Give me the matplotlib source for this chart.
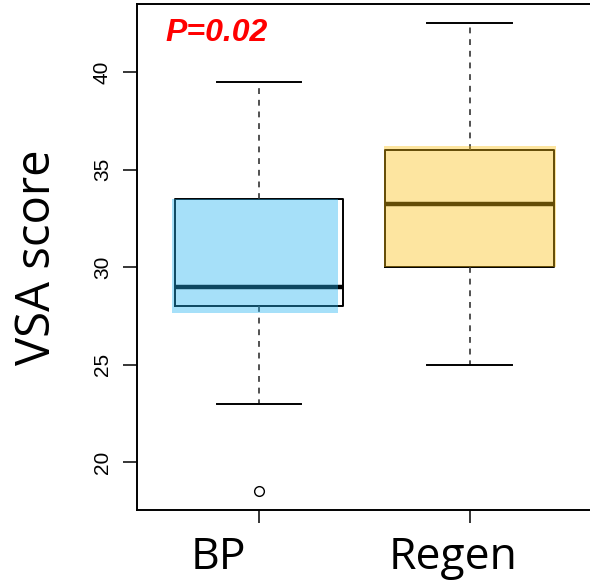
import matplotlib.pyplot as plt
from matplotlib.patches import Rectangle

# group summaries (VSA score)
groups = ['BP', 'Regen']
medians = [29.0, 33.25]
q1 = [28.0, 30.0]
q3 = [33.5, 36.0]
whis_lo = [23.0, 25.0]
whis_hi = [39.5, 42.5]
outliers = [[18.5], []]
y_ticks = [20, 25, 30, 35, 40]

fill_colors = [(0.13, 0.70, 0.95), (0.98, 0.75, 0.07)]

stats = []
for i, g in enumerate(groups):
    stats.append({'label': g, 'med': medians[i], 'q1': q1[i], 'q3': q3[i],
                  'whislo': whis_lo[i], 'whishi': whis_hi[i], 'fliers': outliers[i]})

fig = plt.figure(figsize=(5.9, 5.86), dpi=100)
ax = fig.add_axes([0.2322, 0.1297, 0.77, 0.8635])

positions = [1, 2]
bp = ax.bxp(stats, positions=positions, widths=0.8, patch_artist=False,
            boxprops=dict(color='black', linewidth=1.4),
            medianprops=dict(color='black', linewidth=3.2),
            whiskerprops=dict(color='#333333', linewidth=1.2, linestyle=(0, (3.5, 3.5))),
            capprops=dict(color='black', linewidth=1.4),
            flierprops=dict(marker='o', markersize=7, markerfacecolor='none',
                            markeredgecolor='black', markeredgewidth=1.0))

# translucent fills laid over the boxes, slightly shifted
shift = [(-0.012, -0.024, -0.36, 0.0), (-0.005, 0.01, 0.0, 0.2)]
for i, p in enumerate(positions):
    dl, dr, db, dt = shift[i]
    x0 = p - 0.4 + dl
    y0 = q1[i] + db
    ax.add_patch(Rectangle((x0, y0), 0.8 + dr - dl, q3[i] + dt - y0,
                           facecolor=fill_colors[i], alpha=0.4, edgecolor='none', zorder=5))

ax.set_xlim(0.422, 2.578)
ax.set_ylim(17.54, 43.49)
ax.set_yticks(y_ticks)
ax.set_yticklabels([str(t) for t in y_ticks], rotation=90, va='center',
                   fontsize=15, family='Liberation Sans')
ax.set_xticks(positions)
ax.set_xticklabels([])
ax.tick_params(axis='y', length=10, width=1.1, pad=8)
ax.tick_params(axis='x', length=9, width=1.1)
for s in ax.spines.values():
    s.set_linewidth(1.4)

# group names sit a little left of their ticks
label_x = [0.806, 1.924]
for name, lx in zip(groups, label_x):
    ax.text(lx, -0.05, name, transform=ax.get_xaxis_transform(), fontsize=32,
            family='Open Sans', ha='center', va='top')

ax.set_ylabel('VSA score', fontsize=34, family='Open Sans')
ax.yaxis.set_label_coords(-0.167, 0.5)

ax.text(0.062, 0.972, 'P=0.02', transform=ax.transAxes, color='red',
        fontsize=23, fontweight='bold', fontstyle='italic', family='Liberation Sans',
        va='top', ha='left')

fig.savefig('out.png', dpi=100)
